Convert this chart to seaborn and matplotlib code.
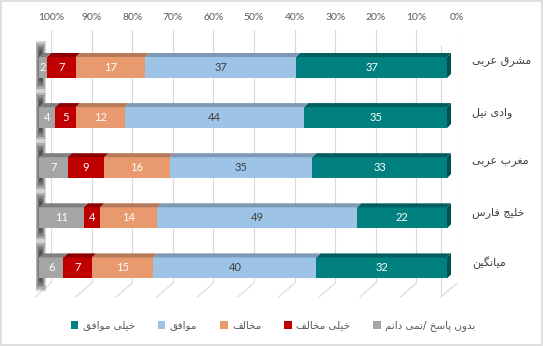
import matplotlib
matplotlib.use("Agg")
import numpy as np
import pandas as pd
import matplotlib.pyplot as plt
import seaborn as sns
from matplotlib.patches import Polygon, Rectangle, Patch
from matplotlib.transforms import ScaledTranslation

# ---------------- data ----------------
categories = ["مشرق عربی", "وادی نیل", "مغرب عربی", "خلیج فارس", "میانگین"]
responses = ["خیلی موافق", "موافق", "مخالف", "خیلی مخالف", "بدون پاسخ /نمی دانم"]
very_agree = [37, 35, 33, 22, 32]
agree = [37, 44, 35, 49, 40]
disagree = [17, 12, 16, 14, 15]
very_disagree = [7, 5, 9, 4, 7]
no_answer = [2, 4, 7, 11, 6]
tick_values = [100, 90, 80, 70, 60, 50, 40, 30, 20, 10, 0]
tick_labels = ["100%", "90%", "80%", "70%", "60%", "50%", "40%", "30%", "20%", "10%", "0%"]

series = [very_agree, agree, disagree, very_disagree, no_answer]
front_colors = ["#00807E", "#9DC3E6", "#E9996E", "#C00000", "#A5A5A5"]
top_colors = ["#005F5E", "#7D99B6", "#B57A59", "#8E0000", "#7F7F7F"]
label_colors = ["white", "#404040", "white", "white", "white"]

# ---------------- Persian shaping for display ----------------
FORMS = {
    "ا": ("\uFE8D", "\uFE8E", None, None),
    "ب": ("\uFE8F", "\uFE90", "\uFE91", "\uFE92"),
    "پ": ("\uFB56", "\uFB57", "\uFB58", "\uFB59"),
    "ج": ("\uFE9D", "\uFE9E", "\uFE9F", "\uFEA0"),
    "خ": ("\uFEA5", "\uFEA6", "\uFEA7", "\uFEA8"),
    "د": ("\uFEA9", "\uFEAA", None, None),
    "ر": ("\uFEAD", "\uFEAE", None, None),
    "س": ("\uFEB1", "\uFEB2", "\uFEB3", "\uFEB4"),
    "ش": ("\uFEB5", "\uFEB6", "\uFEB7", "\uFEB8"),
    "ع": ("\uFEC9", "\uFECA", "\uFECB", "\uFECC"),
    "غ": ("\uFECD", "\uFECE", "\uFECF", "\uFED0"),
    "ف": ("\uFED1", "\uFED2", "\uFED3", "\uFED4"),
    "ق": ("\uFED5", "\uFED6", "\uFED7", "\uFED8"),
    "ل": ("\uFEDD", "\uFEDE", "\uFEDF", "\uFEE0"),
    "م": ("\uFEE1", "\uFEE2", "\uFEE3", "\uFEE4"),
    "ن": ("\uFEE5", "\uFEE6", "\uFEE7", "\uFEE8"),
    "و": ("\uFEED", "\uFEEE", None, None),
    "ی": ("\uFBFC", "\uFBFD", "\uFBFE", "\uFBFF"),
    "گ": ("\uFB92", "\uFB93", "\uFB94", "\uFB95"),
}


def shape(s):
    out = []
    n = len(s)
    for i, ch in enumerate(s):
        if ch not in FORMS:
            out.append(ch)
            continue
        f = FORMS[ch]
        prev = s[i - 1] if i > 0 else None
        nxt = s[i + 1] if i + 1 < n else None
        jp = prev in FORMS and FORMS[prev][2] is not None
        jn = nxt in FORMS and f[2] is not None
        if jp and jn:
            out.append(f[3])
        elif jp:
            out.append(f[1])
        elif jn:
            out.append(f[2])
        else:
            out.append(f[0])
    return "".join(reversed(out))


# ---------------- figure ----------------
sns.set_theme(style="white")
plt.rcParams["font.family"] = ["DejaVu Sans"]

W, H = 543, 346
fig = plt.figure(figsize=(W / 100, H / 100), dpi=100)
fig.patch.set_facecolor("white")


def fx(px):
    return px / W


def fy(py):
    return 1 - py / H


# back wall axes (gridlines + tick labels)
gx0, gx1, gy0, gy1 = 51, 457, 30, 283
ax2 = fig.add_axes([fx(gx0), fy(gy1), fx(gx1 - gx0), (gy1 - gy0) / H])
ax2.set_xlim(100, 0)
ax2.set_ylim(0, 1)
ax2.set_xticks(tick_values)
ax2.set_xticklabels(tick_labels, fontfamily=["Lato", "DejaVu Sans"], fontsize=7.5, color="#595959")
ax2.xaxis.tick_top()
ax2.tick_params(axis="x", length=0, pad=6)
ax2.set_yticks([])
for s in ax2.spines.values():
    s.set_visible(False)
ax2.grid(axis="x", color="#D9D9D9", linewidth=0.8)
# floor slants
dx_data = 16 / (gx1 - gx0) * 100
dy_data = 14 / (gy1 - gy0)
for t in tick_values:
    ax2.plot([t, t + dx_data], [0, -dy_data], color="#D9D9D9", lw=0.8, clip_on=False)
ax2.plot([0 + dx_data, 0 + dx_data], [-dy_data, 1 - 15 / (gy1 - gy0)], color="#D9D9D9", lw=0.8,
         clip_on=False, zorder=10)

# front axes (bars)
bx0, bx1 = 39, 447
row0, row_step = 67.5, 50.1
by0 = row0 - row_step / 2
by1 = by0 + row_step * 5
ax = fig.add_axes([fx(bx0), fy(by1), fx(bx1 - bx0), (by1 - by0) / H])
ax.patch.set_alpha(0)
px_x = 100 / (bx1 - bx0)  # data units per pixel (x)

bar_h = 21 / row_step
df = pd.DataFrame({"category": categories})
cum = np.zeros(len(categories))
cums = []
for vals in series:
    start = cum.copy()
    cum = cum + np.array(vals)
    cums.append((start, cum.copy()))

# draw cumulative bars from largest to smallest (overlap = stacking)
for k in range(len(series) - 1, -1, -1):
    df["cum"] = cums[k][1]
    sns.barplot(data=df, x="cum", y="category", orient="h", color=front_colors[k],
                saturation=1, width=bar_h, linewidth=0, ax=ax, zorder=3)

ax.set_xlim(100, 0)
ax.set_ylim(4.5, -0.5)

# 3D top faces and side
d = 4.0 * px_x
e = 4.0 / row_step
for k, vals in enumerate(series):
    start, end = cums[k]
    for r in range(len(categories)):
        yt = r - bar_h / 2
        poly = Polygon([(end[r], yt), (start[r], yt), (start[r] - d, yt - e), (end[r] - d, yt - e)],
                       closed=True, facecolor=top_colors[k], edgecolor="none", zorder=3, clip_on=False)
        ax.add_patch(poly)
        ax.text((start[r] + end[r]) / 2, r, str(vals[r]), ha="center", va="center",
                fontsize=8, color=label_colors[k], fontfamily=["Lato", "DejaVu Sans"], zorder=5)

shadow_w = [10, 8.5, 7, 5.5, 4, 2.5]
shadow_h = [1.0, 0.92, 0.84, 0.76, 0.68, 0.6]
shadow_cx = 100 - 1.5 * px_x
for r in range(len(categories)):
    yt, yb = r - bar_h / 2, r + bar_h / 2
    side = Polygon([(0, yt), (0, yb), (-d, yb - e), (-d, yt - e)], closed=True,
                   facecolor="#00514F", edgecolor="none", zorder=3, clip_on=False)
    ax.add_patch(side)
    # blurred dark shadow at the left end
    for wpx, hh in zip(shadow_w, shadow_h):
        w = wpx * px_x
        ax.add_patch(Rectangle((shadow_cx + w / 2, r - hh / 2 - 0.03), -w, hh, facecolor="black",
                               alpha=0.17, edgecolor="none", zorder=2, clip_on=False))

ax.set_xlabel("")
ax.set_ylabel("")
ax.set_xticks([])
ax.yaxis.tick_right()
ax.set_yticks(range(len(categories)))
ax.set_yticklabels([shape(c) for c in categories], fontsize=8, color="#404040")
ax.tick_params(axis="y", length=0, pad=18)
for lab in ax.get_yticklabels():
    lab.set_horizontalalignment("left")
    lab.set_transform(lab.get_transform() + ScaledTranslation(0, 7 / 100, fig.dpi_scale_trans))
for s in ax.spines.values():
    s.set_visible(False)

# legend
handles = [Patch(facecolor=front_colors[k], edgecolor="none") for k in range(len(series))]
leg = fig.legend(handles, [shape(r) for r in responses], loc="center", ncol=5,
                 bbox_to_anchor=(fx(273), fy(326)), frameon=False, fontsize=7.5,
                 handlelength=0.75, handleheight=0.75, handletextpad=0.4, columnspacing=2.2)
for t in leg.get_texts():
    t.set_color("#595959")

# chart border
fig.add_artist(Rectangle((0.001, 0.002), 0.997, 0.996, transform=fig.transFigure, fill=False,
                         edgecolor="#D9D9D9", linewidth=1.2))

fig.savefig("out.png", dpi=100)
